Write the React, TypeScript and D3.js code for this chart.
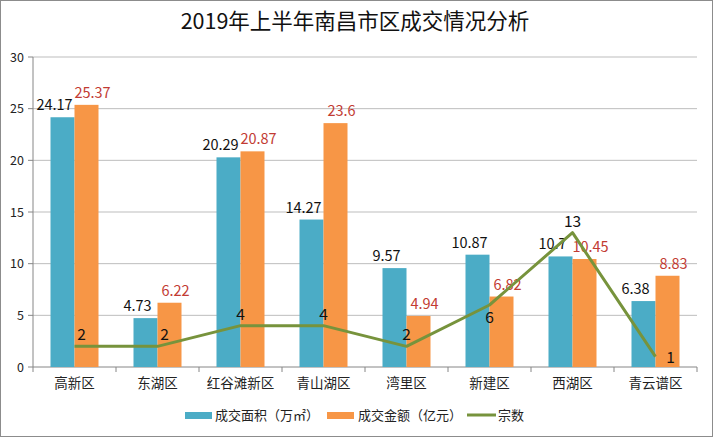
import React from "react";
import * as d3 from "d3";

const categories = ["高新区", "东湖区", "红谷滩新区", "青山湖区", "湾里区", "新建区", "西湖区", "青云谱区"];
const areaValues = [24.17, 4.73, 20.29, 14.27, 9.57, 10.87, 10.7, 6.38];
const amountValues = [25.37, 6.22, 20.87, 23.6, 4.94, 6.82, 10.45, 8.83];
const countValues = [2, 2, 4, 4, 2, 6, 13, 1];
const countLabelPlacement = ["above", "above", "above", "above", "above", "below", "above", "right"];
const yTicks = [0, 5, 10, 15, 20, 25, 30];
const seriesNames = ["成交面积（万㎡）", "成交金额（亿元）", "宗数"];
const title = "2019年上半年南昌市区成交情况分析";

const W = 713, H = 437;
const M = { left: 33, right: 16, top: 57, bottom: 70 };
const BLUE = "#4bacc6", ORANGE = "#f79646", GREEN = "#77933c", RED = "#c23b33";
const CJK = "'Noto Sans CJK SC', 'Noto Sans', sans-serif";
const NUM = "'Noto Sans CJK SC', 'Noto Sans', sans-serif";

export default function App() {
  const x = d3.scaleBand<string>().domain(categories).range([M.left, W - M.right]).padding(0);
  const y = d3.scaleLinear().domain([0, 30]).range([H - M.bottom, M.top]);
  const inner = d3.scaleBand<string>().domain(["a", "b"]).range([0, 48]);
  const off = (x.bandwidth() - 48) / 2;
  const cx = (c: string) => (x(c) as number) + x.bandwidth() / 2;
  const line = d3.line<number>().x((_, i) => cx(categories[i])).y((d) => y(d));
  const y0 = y(0);

  return (
    <svg width={W} height={H} style={{ position: "absolute", left: 0, top: 0, background: "#fff" }}>
      <rect x={0.5} y={0.5} width={W - 1} height={H - 1} fill="#fff" stroke="#8c8c8c" />
      <text x={355} y={29} textAnchor="middle" fontFamily={CJK} fontSize={21.5} fill="#111">{title}</text>
      {yTicks.map((t) => (
        <g key={t}>
          {t > 0 && <line x1={M.left} x2={W - M.right} y1={y(t)} y2={y(t)} stroke="#bdbdbd" />}
          <line x1={M.left - 5} x2={M.left} y1={y(t)} y2={y(t)} stroke="#868686" />
          <text x={24} y={y(t) + 4.5} textAnchor="end" fontFamily={NUM} fontSize={12.5} fill="#222">{t}</text>
        </g>
      ))}
      <line x1={M.left} x2={M.left} y1={M.top} y2={y0} stroke="#868686" />
      <line x1={M.left} x2={W - M.right} y1={y0} y2={y0} stroke="#868686" />
      {[...categories.map((c) => x(c) as number), W - M.right].map((v, i) => (
        <line key={i} x1={v} x2={v} y1={y0} y2={y0 + 5} stroke="#868686" />
      ))}
      {categories.map((c, i) => {
        const bx = (x(c) as number) + off + (inner("a") as number);
        const ox = (x(c) as number) + off + (inner("b") as number);
        const bw = inner.bandwidth();
        return (
          <g key={c}>
            <rect x={bx} y={y(areaValues[i])} width={bw} height={y0 - y(areaValues[i])} fill={BLUE} />
            <rect x={ox} y={y(amountValues[i])} width={bw} height={y0 - y(amountValues[i])} fill={ORANGE} />
            <text x={bx + bw / 2 - 8} y={y(areaValues[i]) - 7} textAnchor="middle" fontFamily={NUM} fontSize={14.5} fill="#111">{areaValues[i]}</text>
            <text x={ox + bw / 2 + 6} y={y(amountValues[i]) - 7} textAnchor="middle" fontFamily={NUM} fontSize={14.5} fill={RED}>{amountValues[i]}</text>
            <text x={cx(c)} y={y0 + 21} textAnchor="middle" fontFamily={CJK} fontSize={13.5} fill="#222">{c}</text>
          </g>
        );
      })}
      <path d={line(countValues) || ""} fill="none" stroke={GREEN} strokeWidth={3} strokeLinejoin="round" />
      {countValues.map((v, i) => {
        const px = cx(categories[i]);
        const py = y(v);
        const p = countLabelPlacement[i];
        const tx = p === "right" ? px + 15 : px + (i < 2 ? 7 : 0);
        const ty = p === "above" ? py - 6 : p === "below" ? py + 18 : py + 6;
        return (
          <text key={i} x={tx} y={ty} textAnchor="middle" fontFamily={NUM} fontSize={15.5} fill="#111">{v}</text>
        );
      })}
      <g fontFamily={CJK} fontSize={13} fill="#222">
        <rect x={185} y={412} width={27} height={7} fill={BLUE} />
        <text x={215} y={420}>{seriesNames[0]}</text>
        <rect x={327} y={412} width={27} height={7} fill={ORANGE} />
        <text x={358} y={420}>{seriesNames[1]}</text>
        <line x1={467} x2={496} y1={415} y2={415} stroke={GREEN} strokeWidth={3} />
        <text x={498} y={420}>{seriesNames[2]}</text>
      </g>
    </svg>
  );
}
